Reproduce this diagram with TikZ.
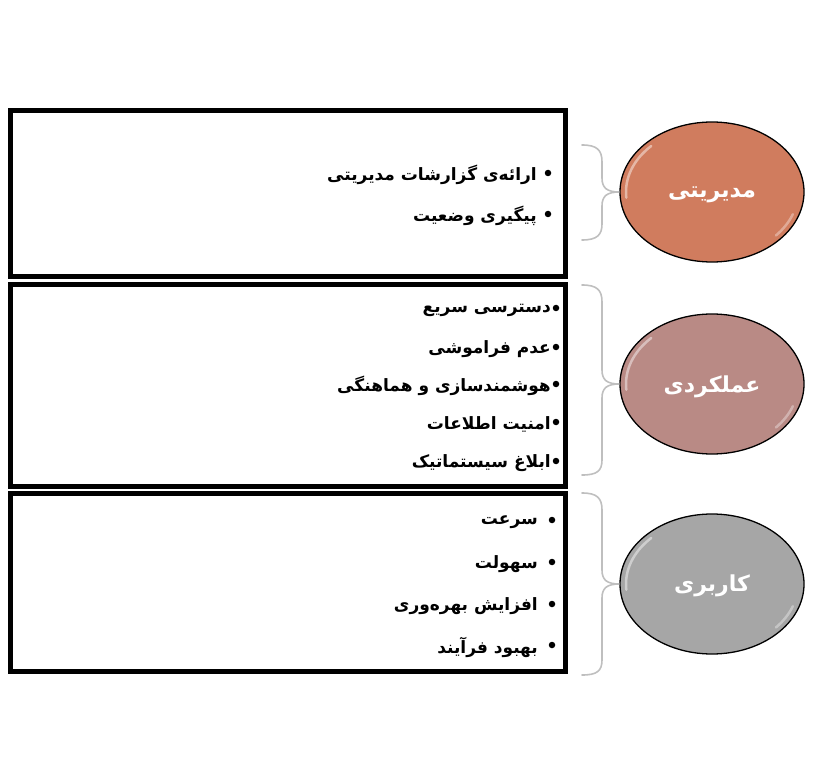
\documentclass[tikz,border=0pt]{standalone}
\usepackage{fontspec}
\usetikzlibrary{shapes.geometric}
\TeXXeTstate=1
\newfontfamily\arabicfont[Script=Arabic]{DejaVu Sans}
\definecolor{cA}{HTML}{D07C5E}
\definecolor{cB}{HTML}{B98A85}
\definecolor{cC}{HTML}{A6A6A6}
\definecolor{braceg}{HTML}{BFBFBF}
\tikzset{
  box/.style={draw=black, line width=5pt, line join=miter, inner sep=0pt, fill=white},
  oval/.style={ellipse, draw=black, line width=1.3pt, minimum width=184pt, minimum height=140pt, inner sep=0pt},
  ovaltext/.style={text=white, font=\arabicfont\bfseries\fontsize{22}{26}\selectfont},
  item/.style={anchor=east, inner sep=0pt, yshift=-2pt, font=\arabicfont\bfseries\fontsize{17}{20}\selectfont},
  bul/.style={circle, fill=black, inner sep=0pt, minimum size=6.5pt},
  bracel/.style={draw=braceg, line width=1.6pt, line cap=round},
  gloss/.style={draw=white, opacity=0.45, line width=2.5pt, line cap=round}
}
\begin{document}
\begin{tikzpicture}[x=1pt,y=-1pt]
\useasboundingbox (0,0) rectangle (816,783);
% boxes
\node[box, minimum width=555pt, minimum height=166pt] (box1) at (288,193.5) {};
\node[box, minimum width=555pt, minimum height=202pt] (box2) at (288,385.5) {};
\node[box, minimum width=555pt, minimum height=178pt] (box3) at (288,582.5) {};
% ellipses
\node[oval, fill=cA] (e1) at (712,192) {};
\node[oval, fill=cB] (e2) at (712,384) {};
\node[oval, fill=cC] (e3) at (712,584) {};
\foreach \e in {e1,e2,e3}{
  \draw[gloss, shift={(\e.center)}] (-135:86 and 65) arc[start angle=-135, end angle=-185, x radius=86, y radius=65];
  \draw[gloss, shift={(\e.center)}, opacity=0.35] (20:86 and 65) arc[start angle=20, end angle=42, x radius=86, y radius=65];
}
\node[ovaltext] (t1) at (712,195) {\beginR مدیریتی\endR};
\node[ovaltext] (t2) at (712,387) {\beginR عملکردی\endR};
\node[ovaltext] (t3) at (712,586) {\beginR کاربری\endR};
% braces
\coordinate (b1t) at (582,145); \coordinate (b1b) at (582,240);
\coordinate (b2t) at (582,285); \coordinate (b2b) at (582,475);
\coordinate (b3t) at (582,493); \coordinate (b3b) at (582,675);
\draw[bracel] (b1t) .. controls (597,145) and (602,150) .. (602,162) -- (602,178)
  .. controls (602,188) and (607,192) .. (e1.west)
  .. controls (607,192) and (602,196) .. (602,206) -- (602,224)
  .. controls (602,235) and (597,240) .. (b1b);
\draw[bracel] (b2t) .. controls (597,285) and (602,290) .. (602,302) -- (602,370)
  .. controls (602,380) and (607,384) .. (e2.west)
  .. controls (607,384) and (602,388) .. (602,398) -- (602,460)
  .. controls (602,471) and (597,475) .. (b2b);
\draw[bracel] (b3t) .. controls (597,493) and (602,498) .. (602,510) -- (602,570)
  .. controls (602,580) and (607,584) .. (e3.west)
  .. controls (607,584) and (602,588) .. (602,598) -- (602,660)
  .. controls (602,671) and (597,675) .. (b3b);
% box 1 items
\node[bul] (u11) at (548,173) {};
\node[item] (i11) at (537,173) {\beginR ارائه‌ی گزارشات مدیریتی\endR};
\node[bul] (u12) at (548,214) {};
\node[item] (i12) at (537,214) {\beginR پیگیری وضعیت\endR};
% box 2 items
\node[bul] (u21) at (556,308) {};
\node[item] (i21) at (551,308) {\beginR دسترسی سریع\endR};
\node[bul] (u22) at (556,347) {};
\node[item] (i22) at (551,347) {\beginR عدم فراموشی\endR};
\node[bul] (u23) at (556,384) {};
\node[item] (i23) at (551,384) {\beginR هوشمندسازی و هماهنگی\endR};
\node[bul] (u24) at (556,422) {};
\node[item] (i24) at (551,422) {\beginR امنیت اطلاعات\endR};
\node[bul] (u25) at (556,461) {};
\node[item] (i25) at (551,461) {\beginR ابلاغ سیستماتیک\endR};
% box 3 items
\node[bul] (u31) at (552,520) {};
\node[item] (i31) at (538,520) {\beginR سرعت\endR};
\node[bul] (u32) at (552,562) {};
\node[item] (i32) at (538,562) {\beginR سهولت\endR};
\node[bul] (u33) at (552,604) {};
\node[item] (i33) at (538,604) {\beginR افزایش بهره‌وری\endR};
\node[bul] (u34) at (552,645) {};
\node[item] (i34) at (538,645) {\beginR بهبود فرآیند\endR};
\end{tikzpicture}
\end{document}
